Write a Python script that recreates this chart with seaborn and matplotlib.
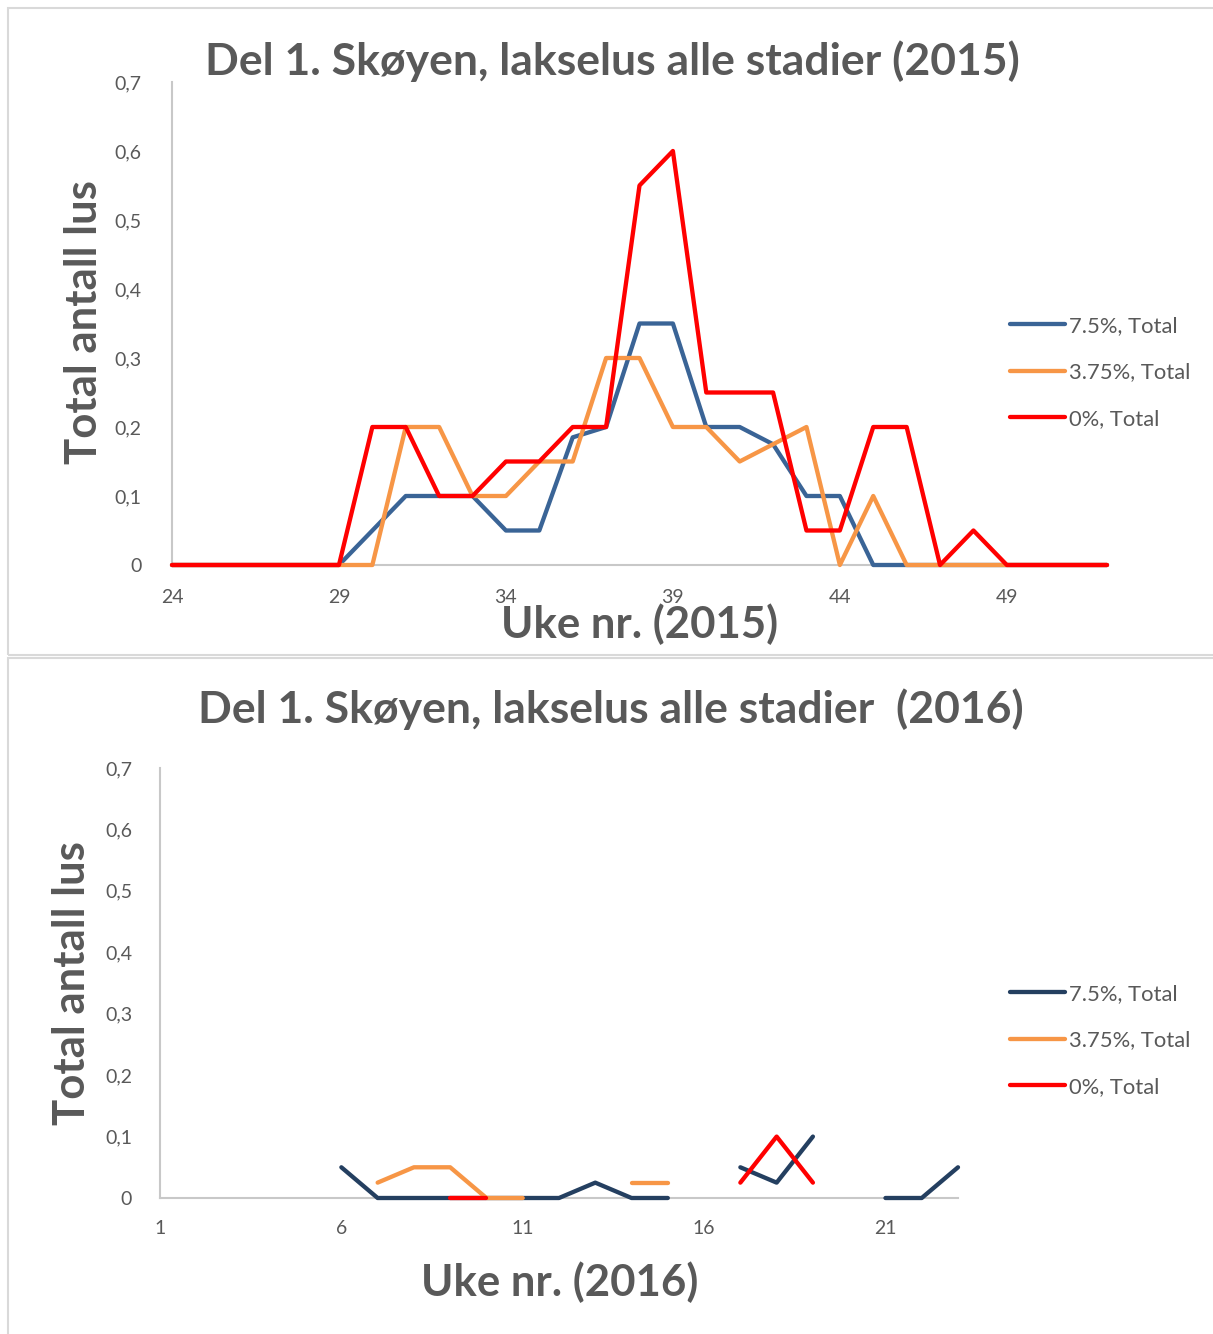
import seaborn as sns
import pandas as pd
import matplotlib.pyplot as plt
import numpy as np
from matplotlib.patches import Rectangle

# ---- data 2015 ----
weeks_2015 = list(range(24, 53))
total_75_2015 = [0, 0, 0, 0, 0, 0, 0.05, 0.1, 0.1, 0.1, 0.05, 0.05, 0.185, 0.2, 0.35,
                 0.35, 0.2, 0.2, 0.175, 0.1, 0.1, 0, 0, 0, 0, 0, 0, 0, 0]
total_375_2015 = [0, 0, 0, 0, 0, 0, 0, 0.2, 0.2, 0.1, 0.1, 0.15, 0.15, 0.3, 0.3,
                  0.2, 0.2, 0.15, 0.175, 0.2, 0, 0.1, 0, 0, 0, 0, 0, 0, 0]
total_0_2015 = [0, 0, 0, 0, 0, 0, 0.2, 0.2, 0.1, 0.1, 0.15, 0.15, 0.2, 0.2, 0.55,
                0.6, 0.25, 0.25, 0.25, 0.05, 0.05, 0.2, 0.2, 0, 0.05, 0, 0, 0, 0]

# ---- data 2016 (NaN = no measurement) ----
weeks_2016 = list(range(1, 24))
nan = np.nan
total_75_2016 = [nan, nan, nan, nan, nan, 0.05, 0, 0, 0, 0, 0, 0, 0.025, 0, 0,
                 nan, 0.05, 0.025, 0.1, nan, 0, 0, 0.05]
total_375_2016 = [nan, nan, nan, nan, nan, nan, 0.025, 0.05, 0.05, 0, 0, nan, nan, 0.025, 0.025,
                  nan, nan, nan, nan, nan, nan, nan, nan]
total_0_2016 = [nan, nan, nan, nan, nan, nan, nan, nan, 0, 0, nan, nan, nan, nan, nan,
                nan, 0.025, 0.1, 0.025, nan, nan, nan, nan]

series_names = ["7.5%, Total", "3.75%, Total", "0%, Total"]
colors_2015 = ["#3a6496", "#f79646", "#ff0000"]
colors_2016 = ["#243f60", "#f79646", "#ff0000"]
yticks = [0, 0.1, 0.2, 0.3, 0.4, 0.5, 0.6, 0.7]
yticklabels = ["0", "0,1", "0,2", "0,3", "0,4", "0,5", "0,6", "0,7"]
xticks_2015 = [24, 29, 34, 39, 44, 49]
xticks_2016 = [1, 6, 11, 16, 21]

W, H = 1213, 1334
GREY = "#595959"

sns.set_theme(style="white")
plt.rcParams["font.family"] = ["Lato", "DejaVu Sans"]


def fx(x):
    return x / W


def fy(y):
    return 1 - y / H


def long_frame(weeks, values):
    rows = []
    for name, vals in zip(series_names, values):
        seg = 0
        for w, v in zip(weeks, vals):
            if np.isnan(v):
                seg += 1
                continue
            rows.append({"week": w, "value": v, "series": name, "seg": seg})
    return pd.DataFrame(rows)


def draw(ax, df, colors, xlim, xticks, xpad, ypad):
    sns.lineplot(data=df, x="week", y="value", hue="series", units="seg",
                 estimator=None, hue_order=series_names, palette=colors,
                 linewidth=3.1, solid_capstyle="round", ax=ax, legend=False)
    for ln in ax.lines:
        ln.set_clip_on(False)
        ln.set_zorder(3)
    ax.set_xlim(*xlim)
    ax.set_ylim(0, 0.7)
    ax.set_xticks(xticks)
    ax.set_xticklabels([str(t) for t in xticks])
    ax.set_yticks(yticks)
    ax.set_yticklabels(yticklabels)
    ax.tick_params(axis="both", length=0, labelsize=14, labelcolor=GREY)
    ax.tick_params(axis="x", pad=xpad)
    ax.tick_params(axis="y", pad=ypad)
    ax.set_xlabel("")
    ax.set_ylabel("")
    for s in ["top", "right"]:
        ax.spines[s].set_visible(False)
    for s in ["left", "bottom"]:
        ax.spines[s].set_color("#c8c8c8")
        ax.spines[s].set_linewidth(1.5)
        ax.spines[s].set_zorder(1)
    ax.patch.set_alpha(0)


fig = plt.figure(figsize=(W / 100, H / 100), dpi=100)

# panel borders
fig.patches.append(Rectangle((fx(8), fy(655)), 1, fy(8) - fy(655), transform=fig.transFigure,
                             fill=False, edgecolor="#d9d9d9", linewidth=1.5))
fig.patches.append(Rectangle((fx(8), fy(1340)), 1, fy(658) - fy(1340), transform=fig.transFigure,
                             fill=False, edgecolor="#d9d9d9", linewidth=1.5))

# top chart
ax1 = fig.add_axes([fx(172), fy(565), fx(1107) - fx(172), fy(82) - fy(565)])
draw(ax1, long_frame(weeks_2015, [total_75_2015, total_375_2015, total_0_2015]),
     colors_2015, (24, 52), xticks_2015, 17, 22)
fig.text(fx(612), fy(61), "Del 1. Skøyen, lakselus alle stadier (2015)", ha="center", va="center",
         fontsize=32, fontweight="bold", color=GREY)
fig.text(fx(640), fy(624), "Uke nr. (2015)", ha="center", va="center",
         fontsize=31.5, fontweight="bold", color=GREY)
fig.text(fx(84), fy(322), "Total antall lus", ha="center", va="center", rotation=90,
         fontsize=31.5, fontweight="bold", color=GREY)

# bottom chart
ax2 = fig.add_axes([fx(160), fy(1198), fx(958) - fx(160), fy(768) - fy(1198)])
draw(ax2, long_frame(weeks_2016, [total_75_2016, total_375_2016, total_0_2016]),
     colors_2016, (1, 23), xticks_2016, 16, 20)
fig.text(fx(611), fy(709), "Del 1. Skøyen, lakselus alle stadier  (2016)", ha="center", va="center",
         fontsize=32, fontweight="bold", color=GREY)
fig.text(fx(560), fy(1282), "Uke nr. (2016)", ha="center", va="center",
         fontsize=31.5, fontweight="bold", color=GREY)
fig.text(fx(72), fy(983), "Total antall lus", ha="center", va="center", rotation=90,
         fontsize=31.5, fontweight="bold", color=GREY)

# legends
for ax, colors, ytop in [(ax1, colors_2015, 316), (ax2, colors_2016, 984)]:
    handles = [plt.Line2D([], [], color=c, linewidth=3.1, solid_capstyle="round") for c in colors]
    leg = ax.legend(handles, series_names, loc="upper left",
                    bbox_to_anchor=(fx(1010), fy(ytop)), bbox_transform=fig.transFigure,
                    frameon=False, fontsize=15.8, handlelength=2.5, handletextpad=0.2,
                    labelspacing=1.2, borderpad=0, borderaxespad=0)
    for t in leg.get_texts():
        t.set_color(GREY)

fig.savefig("out.png", dpi=100)
